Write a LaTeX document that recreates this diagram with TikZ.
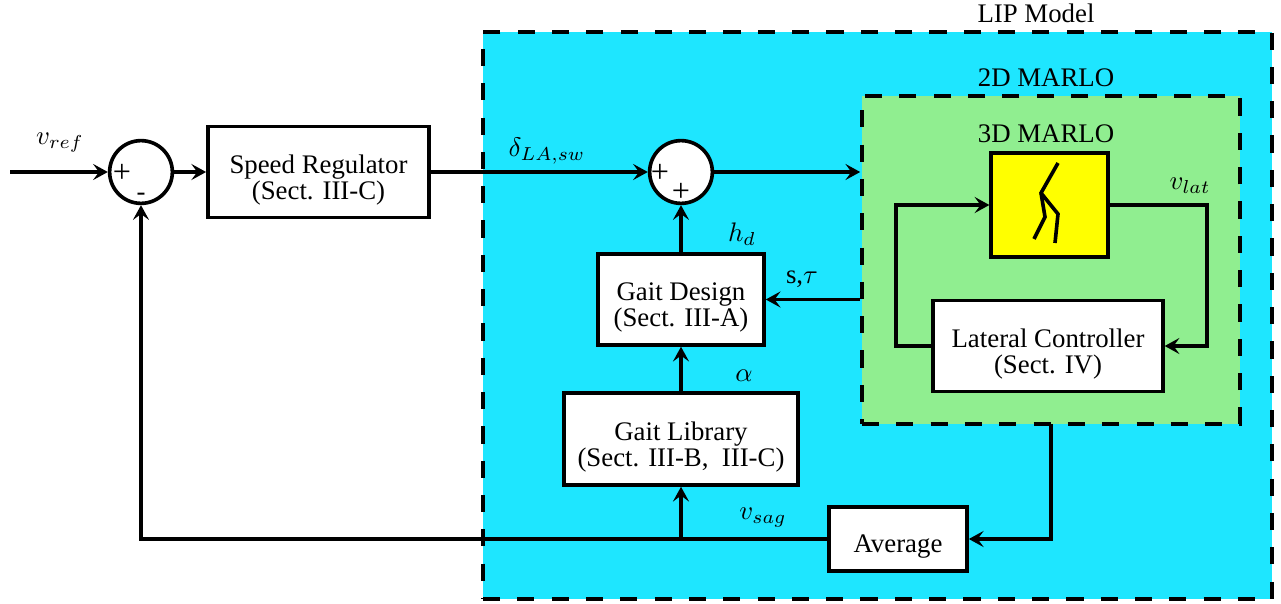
\documentclass[tikz,border=0pt]{standalone}
\usepackage{fontspec}
\setmainfont{Liberation Serif}
\usetikzlibrary{arrows.meta}
\begin{document}
\begin{tikzpicture}[
		x=0.373pt, y=-0.373pt,
		font=\fontsize{10}{9.7}\selectfont,
		blockbox/.style={rectangle, draw, line width=1.35pt, fill=white, align=center, inner sep=0pt, text height=22.4pt},
		sumnode/.style={circle, draw, line width=1.35pt, fill=white, inner sep=0pt, minimum size=23.4pt},
		regionbox/.style={rectangle, draw, line width=1.35pt, dash pattern=on 6.4pt off 6.4pt, inner sep=0pt},
		conn/.style={line width=1.35pt, -{Stealth[length=5.5pt, width=6pt, inset=2.2pt]}},
		wire/.style={line width=1.35pt},
		lbl/.style={inner sep=0pt},
		signlbl/.style={inner sep=0pt, font=\fontsize{12}{12}\selectfont},
		]
		\useasboundingbox (0,0) rectangle (1281,603);
		\definecolor{lipblue}{RGB}{30,230,255}
		\definecolor{marlogreen}{RGB}{144,238,144}
		\definecolor{robotyellow}{RGB}{255,255,0}
		\node[regionbox, fill=lipblue, minimum width=294.3pt, minimum height=211.5pt] (lip) at (877.5,315.5) {};
		\node[regionbox, fill=marlogreen, minimum width=141pt, minimum height=122.3pt] (marlo) at (1051,260) {};
		\node[sumnode] (sum1) at (141,172) {};
		\node[sumnode] (sum2) at (681,172) {};
		\node[blockbox, minimum width=82.5pt, minimum height=33.9pt] (speed) at (318.5,172) {Speed Regulator\\(Sect. III-C)};
		\node[blockbox, minimum width=61.9pt, minimum height=33.9pt] (design) at (681,299.5) {Gait Design\\(Sect. III-A)};
		\node[blockbox, minimum width=87.5pt, minimum height=34.3pt] (library) at (681,439) {Gait Library\\(Sect. III-B,~~III-C)};
		\node[blockbox, text height=12pt, minimum width=51.5pt, minimum height=23.8pt] (average) at (898,539) {Average};
		\node[blockbox, minimum width=85.7pt, minimum height=33.9pt] (lateral) at (1048,346) {Lateral Controller\\(Sect. IV)};
		\node[blockbox, fill=robotyellow, minimum width=43.5pt, minimum height=38.7pt] (robot) at (1049.5,205) {};
		% labels
		\node[lbl] (liplabel) at (1036,13) {LIP Model};
		\node[lbl] (label2d) at (1046,78) {2D MARLO};
		\node[lbl] (label3d) at (1046,134) {3D MARLO};
		\node[lbl] (vref) at (60,143) {$v_{ref}$};
		\node[lbl] (delta) at (547,151) {$\delta_{LA,sw}$};
		\node[lbl] (hd) at (742,234) {$h_d$};
		\node[lbl] (stau) at (802,279) {s,$\tau$};
		\node[lbl] (alpha) at (744,376) {$\alpha$};
		\node[lbl] (vsag) at (763,518) {$v_{sag}$};
		\node[lbl] (vlat) at (1190,186) {$v_{lat}$};
		\node[signlbl] (plus1) at (122,173) {+};
		\node[lbl] (minus1) at (141,197) {-};
		\node[signlbl] (plus2) at (660,173) {+};
		\node[signlbl] (plus3) at (681,192) {+};
		% signals
		\coordinate (start) at (10,172);
		\coordinate (tapsag) at (681,539);
		\coordinate (leftturn) at (896,346);
		\coordinate (rightturn) at (1207,205);
		\coordinate (marlodrop) at (1051,424);
		\draw[conn] (start) -- (sum1);
		\draw[conn] (sum1) -- (speed);
		\draw[conn] (speed) -- (sum2);
		\draw[conn] (sum2) -- (sum2 -| marlo.west);
		\draw[conn] (design) -- (sum2);
		\draw[conn] (library) -- (design);
		\draw[conn] (tapsag) -- (library);
		\draw[conn] (marlo.west |- design) -- (design);
		\draw[conn] (lateral.west) -- (leftturn) |- (robot.west);
		\draw[conn] (robot.east) -- (rightturn) |- (lateral.east);
		\draw[conn] (marlodrop) |- (average.east);
		\draw[conn] (average.west) -| (sum1.south);
		% robot figure
		\draw[wire, line join=miter] (1058,163) -- (1041,193) -- (1045,217) -- (1034,239);
		\draw[wire, line join=miter] (1041,193) -- (1058,214) -- (1055,243);
	\end{tikzpicture}
\end{document}
